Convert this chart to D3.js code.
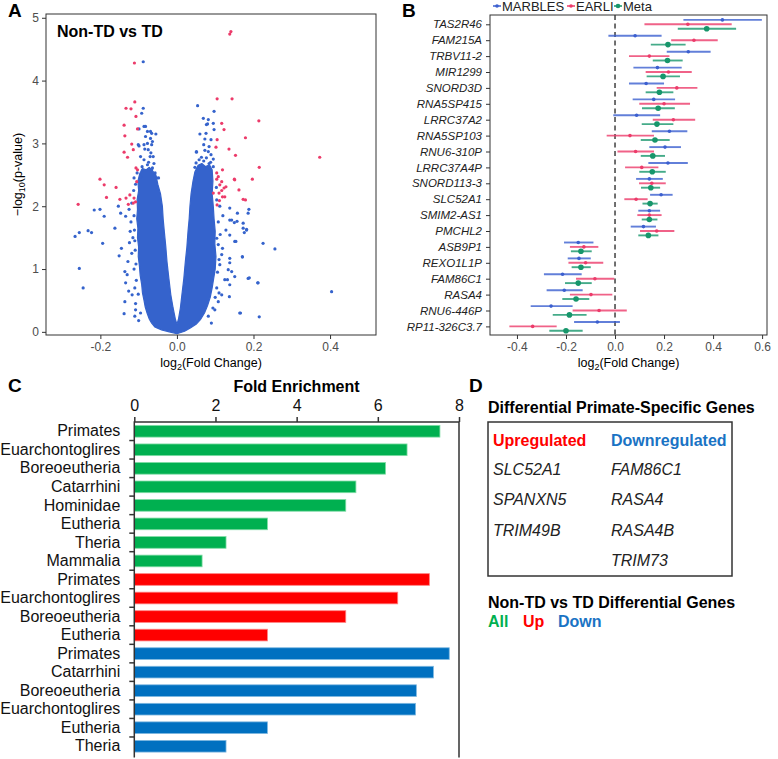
<!DOCTYPE html>
<html><head><meta charset="utf-8">
<script src="https://cdn.jsdelivr.net/npm/d3@7"></script>
<style>
body{margin:0;background:#fff;}
svg{display:block;font-family:"Liberation Sans",Arial,Helvetica,sans-serif;}
</style></head><body>
<svg id="c" width="778" height="759"></svg>
<script>
// ---------------- DATA ----------------
// Panel A: dense central cloud outline [log2FC, -log10 p]
const volcanoCloud = [[0,-0.03],[-0.02,0.0],[-0.04,0.03],[-0.058,0.08],[-0.066,0.14],[-0.072,0.2],[-0.078,0.3],[-0.083,0.4],[-0.086,0.5],[-0.09,0.62],[-0.092,0.75],[-0.096,0.9],[-0.098,1.05],[-0.101,1.2],[-0.1,1.35],[-0.103,1.5],[-0.102,1.65],[-0.105,1.8],[-0.103,1.95],[-0.104,2.1],[-0.1,2.25],[-0.102,2.4],[-0.097,2.52],
[-0.09,2.6],[-0.08,2.58],[-0.072,2.62],[-0.062,2.55],[-0.055,2.5],
[-0.05,2.35],[-0.043,2.2],[-0.038,2.0],[-0.036,1.8],[-0.033,1.6],[-0.029,1.35],[-0.026,1.12],[-0.021,0.85],[-0.016,0.59],[-0.01,0.38],[-0.004,0.2],[0,0.12],
[0.004,0.2],[0.009,0.38],[0.013,0.59],[0.018,0.85],[0.022,1.12],[0.026,1.35],[0.029,1.6],[0.032,1.8],[0.034,2.0],[0.037,2.2],[0.042,2.4],[0.047,2.55],
[0.055,2.65],[0.065,2.68],[0.075,2.63],[0.085,2.66],[0.092,2.58],
[0.094,2.4],[0.092,2.2],[0.095,2.0],[0.097,1.8],[0.1,1.6],[0.099,1.4],[0.102,1.2],[0.1,1.0],[0.096,0.85],[0.092,0.7],[0.087,0.55],[0.08,0.42],[0.072,0.3],[0.062,0.2],[0.05,0.12],[0.035,0.06],[0.02,0.01]];
const volcanoBlue = [[-0.088,4.30],[-0.088,3.56],[-0.092,3.48],[0.054,3.60],[0.097,3.51],[0.069,3.40],[0.082,3.38],[0.077,3.30],[-0.086,3.27],[-0.082,3.27],[-0.099,3.23],[-0.077,3.19],[-0.069,3.19],[-0.082,3.11],[-0.069,3.08],[-0.086,2.98],[-0.077,3.0],[-0.064,3.03],[-0.099,2.96],[-0.084,2.91],[-0.075,2.90],[-0.095,2.79],[-0.086,2.74],[-0.07,2.79],[-0.091,2.63],[-0.077,2.66],[-0.064,2.61],[-0.104,2.53],[-0.095,2.47],[-0.066,3.16],[-0.055,3.15],[-0.066,2.98],[-0.062,2.79],[-0.068,2.85],[-0.066,2.58],[-0.057,2.53],[-0.053,2.45],[-0.101,2.98],
[0.08,3.31],[0.095,3.32],[0.06,3.15],[0.076,3.16],[0.097,3.22],[0.073,3.07],[0.089,3.06],[0.07,2.98],[0.084,2.95],[0.051,2.87],[0.073,2.89],[0.082,2.87],[0.089,2.82],[0.064,2.78],[0.077,2.77],[0.095,2.75],[0.05,2.69],[0.06,2.64],[0.084,2.68],[0.095,2.63],[0.051,2.86],
[-0.216,1.94],[-0.201,1.95],[-0.19,1.84],[-0.266,1.52],[-0.255,1.58],[-0.232,1.61],[-0.223,1.58],[-0.194,1.41],[-0.255,1.01],[-0.245,0.70],[-0.162,1.65],[-0.153,2.00],[-0.147,1.89],[-0.134,1.84],[-0.145,1.33],[-0.151,1.21],[-0.134,0.78],[-0.117,0.59],[-0.13,0.91],[-0.136,0.96],[-0.136,0.48],[-0.138,0.29],[-0.115,1.5],[-0.12,1.75],[-0.112,1.0],[-0.118,1.25],[-0.11,0.7],[-0.108,0.45],[-0.125,1.95],[-0.118,2.05],[-0.122,1.6],[-0.113,2.25],[-0.128,1.12],[-0.124,1.42],[-0.11,0.25],[-0.1,0.18],[-0.126,0.65],
[-0.108,0.35],[-0.106,0.82],[-0.109,1.3],[-0.111,1.62],[-0.112,1.85],[-0.108,2.35],[-0.112,2.45],[-0.095,0.3],[-0.101,0.6],[-0.107,1.08],[-0.11,1.45],[-0.09,2.57],[-0.074,2.7],[-0.06,2.68],[-0.048,2.45],
[0.404,0.64],[0.225,1.41],[0.256,1.32],[0.186,1.89],[0.173,1.73],[0.182,1.62],[0.176,1.58],[0.151,1.44],[0.171,1.19],[0.186,0.85],[0.211,0.78],[0.166,0.30],[0.215,0.24],[0.158,1.89],[0.138,1.78],[0.150,1.74],[0.137,0.56],[0.151,0.88],[0.138,1.17],[0.132,0.83],[0.138,1.10],[0.138,1.97],[0.188,1.95],[0.143,1.78],[0.157,1.76],[0.173,1.65],[0.128,1.62],[0.138,1.54],[0.154,1.44],[0.182,1.63],[0.171,1.2],[0.189,0.86],[0.134,0.99],[0.143,0.96],[0.125,0.83],[0.138,0.75],[0.117,0.59],[0.108,0.48],[0.099,0.35],[0.09,0.14],[0.164,0.30],[0.212,0.78],[0.11,0.62],[0.104,0.7],[0.117,1.23],[0.119,1.33],[0.112,1.07],[0.104,1.49],[0.108,1.39],[0.12,1.85],[0.112,2.0],
[0.106,0.95],[0.108,1.75],[0.104,2.1],[0.103,2.3],[0.1,0.55],[0.094,0.38],[0.082,0.25],[0.11,1.15],[0.113,1.55],[0.058,2.74],[0.07,2.72],[0.088,2.7],[0.047,2.62]];
const volcanoRed = [[0.141,4.78],[0.138,4.74],[-0.111,4.28],[-0.110,3.66],[-0.133,3.56],[-0.120,3.55],[-0.107,3.43],[-0.103,3.23],[-0.138,3.29],[-0.136,3.12],[-0.118,2.99],[-0.114,2.90],[-0.138,2.86],[-0.129,2.78],[-0.107,2.61],[-0.103,2.58],[-0.201,2.43],[-0.19,2.34],[-0.159,2.30],[-0.184,2.14],[-0.258,2.03],[-0.149,2.11],[-0.133,2.13],[-0.123,2.18],[-0.127,2.03],[-0.114,2.05],[-0.105,2.39],[-0.108,2.07],[-0.112,2.13],
[0.105,3.71],[0.144,3.71],[0.214,3.36],[0.117,3.32],[0.123,3.22],[0.179,3.09],[0.105,3.06],[0.102,2.94],[0.136,2.91],[0.153,2.81],[0.373,2.78],[0.215,2.62],[0.119,2.58],[0.104,2.53],[0.108,2.47],[0.151,2.42],[0.197,2.43],[0.104,2.43],[0.112,2.34],[0.123,2.29],[0.117,2.25],[0.128,2.31],[0.162,2.26],[0.173,2.11],[0.179,2.10],[0.105,2.02],[0.119,2.15],[0.111,2.09],[0.095,2.21],[0.117,2.39],[0.110,2.21],[0.125,2.15],[0.150,2.43]];
const volcanoXTicks = [-0.2, 0, 0.2, 0.4];
const volcanoYTicks = [0, 1, 2, 3, 4, 5];

// Panel B: forest plot, [estimate, lower, upper]
const genes = ["TAS2R46","FAM215A","TRBV11-2","MIR1299","SNORD3D","RNA5SP415","LRRC37A2","RNA5SP103","RNU6-310P","LRRC37A4P","SNORD113-3","SLC52A1","SMIM2-AS1","PMCHL2","ASB9P1","REXO1L1P","FAM86C1","RASA4","RNU6-446P","RP11-326C3.7"];
const marbles = [[0.438,0.279,0.599],[0.082,-0.027,0.19],[0.299,0.211,0.39],[0.173,0.075,0.272],[0.127,0.057,0.2],[0.158,0.072,0.245],[0.088,-0.007,0.184],[0.222,0.15,0.295],[0.204,0.14,0.269],[0.216,0.136,0.297],[0.14,0.086,0.195],[0.188,0.143,0.235],[0.14,0.095,0.184],[0.116,0.064,0.167],[-0.15,-0.208,-0.088],[-0.147,-0.193,-0.099],[-0.214,-0.29,-0.136],[-0.207,-0.279,-0.132],[-0.261,-0.344,-0.173],[-0.072,-0.167,0.02]];
const earli = [[0.297,0.12,0.476],[0.322,0.229,0.419],[0.14,0.057,0.222],[0.218,0.125,0.313],[0.252,0.17,0.336],[0.2,0.099,0.306],[0.238,0.154,0.327],[0.061,-0.034,0.159],[0.084,0.01,0.159],[0.109,0.041,0.177],[0.15,0.098,0.207],[0.086,0.038,0.133],[0.14,0.091,0.19],[0.17,0.102,0.242],[-0.127,-0.184,-0.068],[-0.12,-0.19,-0.048],[-0.082,-0.159,-0.003],[-0.098,-0.184,-0.011],[-0.065,-0.173,0.048],[-0.336,-0.431,-0.238]];
const meta = [[0.374,0.256,0.494],[0.216,0.146,0.288],[0.214,0.154,0.276],[0.196,0.129,0.265],[0.181,0.125,0.238],[0.176,0.11,0.244],[0.171,0.109,0.238],[0.163,0.105,0.223],[0.154,0.105,0.204],[0.152,0.099,0.207],[0.146,0.106,0.184],[0.143,0.112,0.174],[0.14,0.109,0.173],[0.136,0.095,0.177],[-0.139,-0.18,-0.095],[-0.139,-0.177,-0.099],[-0.15,-0.204,-0.095],[-0.159,-0.215,-0.105],[-0.186,-0.254,-0.116],[-0.2,-0.268,-0.132]];
const forestSeries = ["MARBLES","EARLI","Meta"];
const forestXTicks = [-0.4,-0.2,0,0.2,0.4,0.6];

// Panel C: fold enrichment
const clades = ["Primates","Euarchontoglires","Boreoeutheria","Catarrhini","Hominidae","Eutheria","Theria","Mammalia","Primates","Euarchontoglires","Boreoeutheria","Eutheria","Primates","Catarrhini","Boreoeutheria","Euarchontoglires","Eutheria","Theria"];
const enrichment = [7.53,6.72,6.19,5.46,5.21,3.28,2.26,1.67,7.27,6.49,5.21,3.28,7.76,7.37,6.95,6.93,3.28,2.26];
const enrichGroup = ["All","All","All","All","All","All","All","All","Up","Up","Up","Up","Down","Down","Down","Down","Down","Down"];
const enrichTicks = [0,2,4,6,8];

// Panel D
const upGenes = ["SLC52A1","SPANXN5","TRIM49B"];
const downGenes = ["FAM86C1","RASA4","RASA4B","TRIM73"];
const groupNames = ["All","Up","Down"];

// ---------------- DRAW ----------------
const svg = d3.select("#c");
const axisCol = "#333";
const tickTextCol = "#4d4d4d";
const fmt = d => d === 0 ? "0.0" : d3.format(".1f")(d).replace("\u2212","-");

function panelLetter(t, x, y){
  svg.append("text").attr("x",x).attr("y",y).attr("font-size",19).attr("font-weight","bold").text(t);
}

// ===== Panel A =====
{
  const L=46,R=376,T=14,B=335;
  const x = d3.scaleLinear([-0.342,0.52],[L,R]);
  const y = d3.scaleLinear([-0.05,5.06],[B,T]);
  const g = svg.append("g");
  const blue = "#3563cc", red = "#ec3b6a";
  g.append("path").datum(volcanoCloud)
    .attr("d", d3.line().x(d=>x(d[0])).y(d=>y(d[1])).curve(d3.curveLinearClosed))
    .attr("fill",blue).attr("stroke",blue).attr("stroke-width",1.2).attr("stroke-linejoin","round");
  g.selectAll(".vb").data(volcanoBlue).join("circle")
    .attr("cx",d=>x(d[0])).attr("cy",d=>y(d[1])).attr("r",1.6).attr("fill",blue);
  g.selectAll(".vr").data(volcanoRed).join("circle")
    .attr("cx",d=>x(d[0])).attr("cy",d=>y(d[1])).attr("r",1.6).attr("fill",red);
  g.append("rect").attr("x",L).attr("y",T).attr("width",R-L).attr("height",B-T)
    .attr("fill","none").attr("stroke",axisCol).attr("stroke-width",1);
  const xa = g.append("g").attr("transform",`translate(0,${B})`)
    .call(d3.axisBottom(x).tickValues(volcanoXTicks).tickFormat(fmt).tickSize(4).tickPadding(3));
  const ya = g.append("g").attr("transform",`translate(${L},0)`)
    .call(d3.axisLeft(y).tickValues(volcanoYTicks).tickFormat(d3.format("d")).tickSize(4).tickPadding(3));
  [xa,ya].forEach(a=>{a.select(".domain").remove();
    a.selectAll("line").attr("stroke",axisCol);
    a.selectAll("text").attr("font-size",12).attr("fill",tickTextCol).attr("font-family",null);});
  g.append("text").attr("x",57).attr("y",37).attr("font-size",16).attr("font-weight","bold").text("Non-TD vs TD");
  const xt = g.append("text").attr("x",(L+R)/2).attr("y",366.5).attr("text-anchor","middle").attr("font-size",12.5);
  xt.append("tspan").text("log");
  xt.append("tspan").attr("font-size",9).attr("dy",3).text("2");
  xt.append("tspan").attr("dy",-3).text("(Fold Change)");
  const yt = g.append("text").attr("transform",`translate(22,${(T+B)/2}) rotate(-90)`).attr("text-anchor","middle").attr("font-size",12.5);
  yt.append("tspan").text("\u2212log");
  yt.append("tspan").attr("font-size",9).attr("dy",3).text("10");
  yt.append("tspan").attr("dy",-3).text("(p-value)");
  panelLetter("A",8,17);
}

// ===== Panel B =====
{
  const L=490,R=767,T=15,B=335;
  const x = d3.scaleLinear([-0.51,0.62],[L,R]);
  const y = d3.scalePoint(genes,[24.3,326.4]);
  const cols = {MARBLES:"#3b5fcf", EARLI:"#ec3b6a", Meta:"#17966b"};
  const offs = {MARBLES:-4.4, EARLI:0, Meta:4.4};
  const rads = {MARBLES:1.8, EARLI:1.8, Meta:2.8};
  const seriesData = {MARBLES:marbles, EARLI:earli, Meta:meta};
  const g = svg.append("g");
  g.append("line").attr("x1",x(0)).attr("x2",x(0)).attr("y1",T).attr("y2",B)
    .attr("stroke","#333").attr("stroke-width",1.4).attr("stroke-dasharray","5,3.5");
  forestSeries.forEach(s=>{
    const sg = g.append("g");
    const dat = seriesData[s].map((v,i)=>({g:genes[i],e:v[0],lo:v[1],hi:v[2]}));
    sg.selectAll("line").data(dat).join("line")
      .attr("x1",d=>x(d.lo)).attr("x2",d=>x(d.hi))
      .attr("y1",d=>y(d.g)+offs[s]).attr("y2",d=>y(d.g)+offs[s])
      .attr("stroke",cols[s]).attr("stroke-width",1.9).attr("stroke-opacity",0.8);
    sg.selectAll("circle").data(dat).join("circle")
      .attr("cx",d=>x(d.e)).attr("cy",d=>y(d.g)+offs[s]).attr("r",rads[s]).attr("fill",cols[s]);
  });
  g.append("rect").attr("x",L).attr("y",T).attr("width",R-L).attr("height",B-T)
    .attr("fill","none").attr("stroke",axisCol).attr("stroke-width",1);
  const xa = g.append("g").attr("transform",`translate(0,${B})`)
    .call(d3.axisBottom(x).tickValues(forestXTicks).tickFormat(fmt).tickSize(4).tickPadding(3.5));
  const ya = g.append("g").attr("transform",`translate(${L},0)`)
    .call(d3.axisLeft(y).tickSize(4).tickPadding(4));
  [xa,ya].forEach(a=>{a.select(".domain").remove();
    a.selectAll("line").attr("stroke",axisCol);
    a.selectAll("text").attr("font-family",null);});
  xa.selectAll("text").attr("font-size",12).attr("fill",tickTextCol);
  ya.selectAll("text").attr("font-size",11.5).attr("fill","#222").attr("font-style","italic");
  const xt = g.append("text").attr("x",(L+R)/2).attr("y",366.5).attr("text-anchor","middle").attr("font-size",12.5);
  xt.append("tspan").text("log");
  xt.append("tspan").attr("font-size",9).attr("dy",3).text("2");
  xt.append("tspan").attr("dy",-3).text("(Fold Change)");
  // legend
  const legX = {MARBLES:497, EARLI:571, Meta:618};
  forestSeries.forEach(s=>{
    const lg = g.append("g").attr("transform",`translate(${legX[s]},6)`);
    lg.append("line").attr("x1",-4).attr("x2",4).attr("stroke",cols[s]).attr("stroke-width",1.5);
    lg.append("circle").attr("r",s==="Meta"?2.3:1.8).attr("fill",cols[s]);
    lg.append("text").attr("x",5).attr("y",5).attr("font-size",13).attr("fill","#222").text(s);
  });
  panelLetter("B",402,17);
}

// ===== Panel C =====
{
  const L=134.3,R=459,T=422,B=755.5;
  const idx = clades.map((c,i)=>i);
  const x = d3.scaleLinear([0,8],[L,R]);
  const y = d3.scaleBand(idx,[T,B]).paddingInner(0.37).paddingOuter(0.185);
  const gcol = {All:"#00b050", Up:"#ff0000", Down:"#0070c0"};
  const gedge = {All:"#7fdca5", Up:"#ff8080", Down:"#7fb8e0"};
  const g = svg.append("g");
  g.selectAll("rect.bar").data(idx).join("rect")
    .attr("x",x(0)).attr("y",i=>y(i)).attr("width",i=>x(enrichment[i])-x(0)).attr("height",y.bandwidth())
    .attr("fill",i=>gcol[enrichGroup[i]]).attr("stroke",i=>gedge[enrichGroup[i]]).attr("stroke-width",0.8);
  g.append("path").attr("d",`M${L},${B+2}V${T}H${R}V${B+2}`).attr("fill","none").attr("stroke","#333").attr("stroke-width",1.5);
  const xa = g.append("g").attr("transform",`translate(0,${T})`)
    .call(d3.axisTop(x).tickValues(enrichTicks).tickSize(5).tickPadding(6));
  xa.select(".domain").remove();
  xa.selectAll("line").attr("stroke","#333").attr("stroke-width",1.5);
  xa.selectAll("text").attr("font-size",16).attr("font-family",null).attr("fill","#111");
  const ya = g.append("g").attr("transform",`translate(${L},0)`)
    .call(d3.axisLeft(y).tickFormat(i=>clades[i]).tickSize(0).tickPadding(14));
  ya.select(".domain").remove();
  ya.selectAll("text").attr("font-size",16).attr("font-family",null).attr("fill","#111");
  const step = y.step();
  g.selectAll("line.bt").data(d3.range(1,18)).join("line")
    .attr("x1",L-5).attr("x2",L).attr("y1",k=>T+k*step).attr("y2",k=>T+k*step)
    .attr("stroke","#333").attr("stroke-width",1.5);
  g.append("text").attr("x",296.5).attr("y",392).attr("text-anchor","middle")
    .attr("font-size",16).attr("font-weight","bold").text("Fold Enrichment");
  panelLetter("C",8,392);
}

// ===== Panel D =====
{
  const g = svg.append("g");
  panelLetter("D",469,392);
  g.append("text").attr("x",488).attr("y",413).attr("font-size",16).attr("font-weight","bold").text("Differential Primate-Specific Genes");
  g.append("rect").attr("x",488).attr("y",422).attr("width",244).attr("height",154)
    .attr("fill","none").attr("stroke","#333").attr("stroke-width",1.5);
  g.append("text").attr("x",493).attr("y",446).attr("font-size",16).attr("font-weight","bold").attr("fill","#ff0000").text("Upregulated");
  g.append("text").attr("x",611).attr("y",446).attr("font-size",16).attr("font-weight","bold").attr("fill","#1a73c4").text("Downregulated");
  const rowY = [475,505,536,566];
  g.selectAll("text.up").data(upGenes).join("text")
    .attr("x",493).attr("y",(d,i)=>rowY[i]).attr("font-size",16).attr("font-style","italic").attr("fill","#222").text(d=>d);
  g.selectAll("text.dn").data(downGenes).join("text")
    .attr("x",611).attr("y",(d,i)=>rowY[i]).attr("font-size",16).attr("font-style","italic").attr("fill","#222").text(d=>d);
  g.append("text").attr("x",488).attr("y",608).attr("font-size",16).attr("font-weight","bold").text("Non-TD vs TD Differential Genes");
  const lgx = [488,523,558];
  const lgc = ["#00b050","#ff0000","#1a73c4"];
  g.selectAll("text.lg").data(groupNames).join("text")
    .attr("x",(d,i)=>lgx[i]).attr("y",627).attr("font-size",16).attr("font-weight","bold")
    .attr("fill",(d,i)=>lgc[i]).text(d=>d);
}
</script>
</body></html>
